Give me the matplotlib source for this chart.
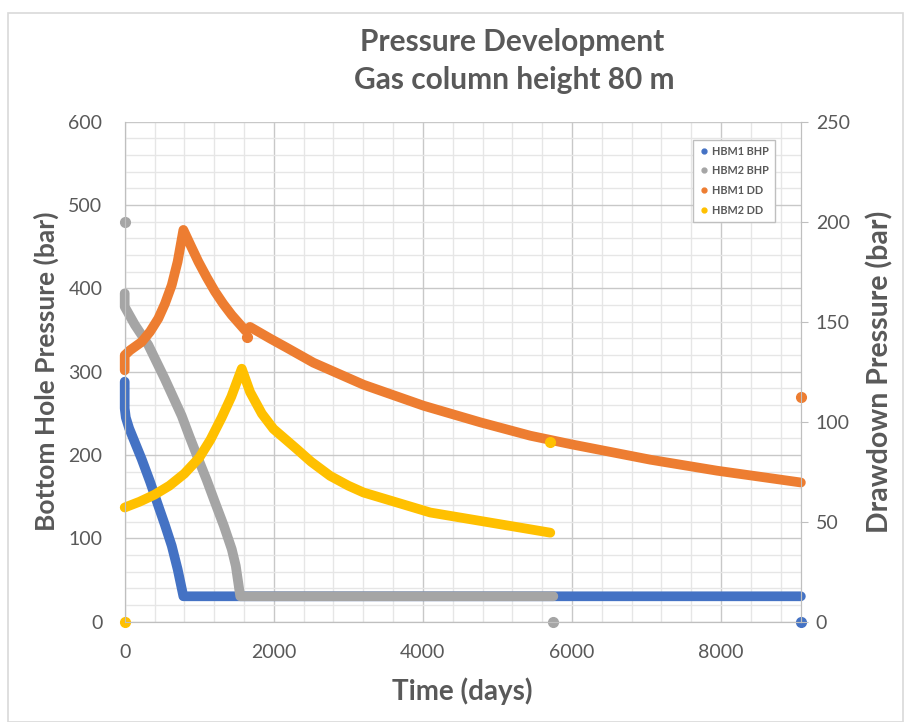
import matplotlib.pyplot as plt
from matplotlib.lines import Line2D
from matplotlib.patches import Rectangle
import numpy as np

# Series values (days, bar / days, DD bar)
hbm1_bhp_days = [0, 0, 15, 60, 228, 340, 451, 540, 631, 710, 787, 9070]
hbm1_bhp_bar = [288, 256, 245, 232, 195, 168, 139, 116, 91, 63, 30.5, 30.5]
hbm2_bhp_days = [0, 0, 50, 138, 220, 317, 540, 765, 870, 988, 1100, 1212, 1330, 1436, 1490, 1550, 5750]
hbm2_bhp_bar = [394, 378, 370, 356, 345, 332, 291, 247, 222, 195, 170, 143, 115, 87, 67, 30.5, 30.5]
hbm1_dd_days = [0, 0, 71, 228, 340, 451, 540, 631, 710, 787, 890, 988, 1100, 1212, 1320, 1436,
                1620, 1680, 1950, 2174, 2532, 3203, 4008, 4769, 5440, 5977, 7051, 7946, 9070]
hbm1_dd_bar = [125.7, 133.2, 135.7, 139.9, 145, 151.6, 159, 168.3, 180, 195.9, 187.7, 180, 172.2,
               165, 159, 153.3, 145.5, 147.4, 141.6, 137, 129.5, 118.5, 108, 99.7, 93, 88.8, 81,
               75.5, 69.6]
hbm2_dd_days = [0, 200, 400, 600, 800, 1000, 1150, 1300, 1430, 1570, 1682, 1840, 1995, 2309,
                2500, 2756, 3000, 3203, 3651, 4098, 4769, 5440, 5709]
hbm2_dd_bar = [57.1, 60, 63.5, 68, 74, 82, 91, 102, 112.5, 126.5, 114.8, 104, 96.4, 86.3,
               80, 72.9, 68, 64.6, 59.6, 54.6, 50.4, 46.2, 44.5]

# stray single rows (first/last rows of each table)
hbm1_bhp_extra = ([9070], [0])
hbm2_bhp_extra = ([0, 5750], [479.5, 0])
hbm1_dd_extra = ([9070, 1640], [112.3, 142.3])
hbm2_dd_extra = ([0, 5709], [0, 89.7])

series_names = ['HBM1 BHP', 'HBM2 BHP', 'HBM1 DD', 'HBM2 DD']
colors = ['#4472C4', '#A5A5A5', '#ED7D31', '#FFC000']
txt = '#595959'
font = 'Lato'

fig = plt.figure(figsize=(9.05, 7.22), dpi=100)
fig.patches.append(Rectangle((8 / 905, 0), 895 / 905, 709 / 722, transform=fig.transFigure,
                             fill=False, edgecolor='#d9d9d9', lw=1.2))
ax = fig.add_axes([124.7 / 905, 100.3 / 722, 675.8 / 905, 500 / 722])
ax2 = ax.twinx()

kw = dict(lw=7, solid_capstyle='round', solid_joinstyle='round', clip_on=False)
dot = dict(ls='none', marker='o', ms=7, clip_on=False)
ax.plot(hbm1_bhp_days, hbm1_bhp_bar, color=colors[0], **kw)
ax.plot(*hbm1_bhp_extra, color=colors[0], **dot)
ax.plot(hbm2_bhp_days, hbm2_bhp_bar, color=colors[1], **kw)
ax.plot(*hbm2_bhp_extra, color=colors[1], **dot)
ax2.plot(hbm1_dd_days, hbm1_dd_bar, color=colors[2], **kw)
ax2.plot(*hbm1_dd_extra, color=colors[2], **dot)
ax2.plot(hbm2_dd_days, hbm2_dd_bar, color=colors[3], **kw)
ax2.plot(*hbm2_dd_extra, color=colors[3], **dot)

ax.set_xlim(0, 9065)
ax.set_ylim(0, 600)
ax2.set_ylim(0, 250)
ax.set_xticks(np.arange(0, 8001, 2000))
ax.set_xticks(np.arange(0, 9065, 400), minor=True)
ax.set_yticks(np.arange(0, 601, 100))
ax.set_yticks(np.arange(0, 601, 20), minor=True)
ax2.set_yticks(np.arange(0, 251, 50))

ax.grid(which='minor', color='#e6e6e6', lw=1)
ax.grid(which='major', color='#c8c8c8', lw=1)
ax.set_axisbelow(True)
for a in (ax, ax2):
    for s in a.spines.values():
        s.set_color('#bfbfbf')
    a.spines['top'].set_visible(False)
ax.tick_params(which='both', length=0)
ax.tick_params(axis='y', pad=16, labelsize=14, labelcolor=txt)
ax.tick_params(axis='x', pad=16, labelsize=14, labelcolor=txt)
ax2.tick_params(axis='y', length=5, color='#bfbfbf', pad=6, labelsize=14, labelcolor=txt)
for lab in ax.get_xticklabels() + ax.get_yticklabels() + ax2.get_yticklabels():
    lab.set_fontfamily(font)

lab_kw = dict(fontweight='bold', color=txt, family=font)
ax.set_xlabel('Time (days)', labelpad=12, fontsize=20, **lab_kw)
ax.set_ylabel('Bottom Hole Pressure (bar)', labelpad=7, fontsize=19, **lab_kw)
ax2.set_ylabel('Drawdown Pressure (bar)', labelpad=12, fontsize=20.5, **lab_kw)

fig.text(512 / 905, 1 - 42 / 722, 'Pressure Development', ha='center', va='center',
         fontsize=21.5, **lab_kw)
fig.text(514 / 905, 1 - 80 / 722, 'Gas column height 80 m', ha='center', va='center',
         fontsize=21.5, **lab_kw)

handles = [Line2D([], [], marker='o', ls='none', ms=3.5, color=c) for c in colors]
leg = ax2.legend(handles, series_names, loc='upper right', bbox_to_anchor=(0.97, 0.975),
                 prop={'family': font, 'weight': 'bold', 'size': 7.8}, labelcolor=txt,
                 frameon=True, fancybox=False, edgecolor='#bfbfbf', framealpha=1,
                 handletextpad=0.2, handlelength=1.0, labelspacing=0.8, borderpad=0.55)
leg.get_frame().set_linewidth(1)

fig.savefig('out.png', dpi=100)
